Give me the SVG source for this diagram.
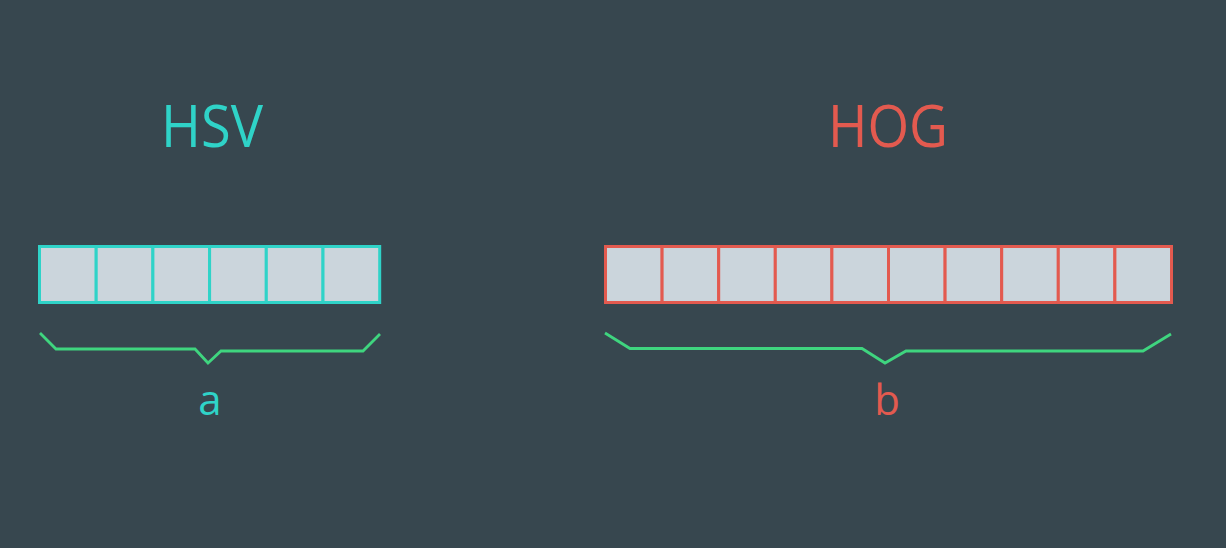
<svg xmlns="http://www.w3.org/2000/svg" width="1226" height="548" viewBox="0 0 1226 548">
<style>
.cell{fill:#cbd5dc;stroke-width:3}
.hsv .cell{stroke:#2fd3c8}
.hog .cell{stroke:#e35a4f}
.title{font-family:"Open Sans","Liberation Sans",sans-serif;font-size:58px;text-anchor:middle}
.lbl{font-family:"Open Sans","Liberation Sans",sans-serif;font-size:42px;text-anchor:middle}
.brace{fill:none;stroke:#3fd57f;stroke-width:2.8;stroke-linejoin:miter}
</style>
<rect width="1226" height="548" fill="#37474f"/>
<g id="hsv" class="hsv">
<text class="title" x="212" y="147" fill="#2fd3c8" textLength="102" lengthAdjust="spacingAndGlyphs">HSV</text>
<rect class="cell" x="39.5" y="246.5" width="56.7" height="56"/>
<rect class="cell" x="96.2" y="246.5" width="56.7" height="56"/>
<rect class="cell" x="152.9" y="246.5" width="56.7" height="56"/>
<rect class="cell" x="209.6" y="246.5" width="56.7" height="56"/>
<rect class="cell" x="266.3" y="246.5" width="56.7" height="56"/>
<rect class="cell" x="323" y="246.5" width="56.7" height="56"/>
</g>
<g id="hog" class="hog">
<text class="title" x="888" y="147" fill="#e35a4f" textLength="120" lengthAdjust="spacingAndGlyphs">HOG</text>
<rect class="cell" x="605.5" y="246.5" width="56.6" height="56"/>
<rect class="cell" x="662.1" y="246.5" width="56.6" height="56"/>
<rect class="cell" x="718.7" y="246.5" width="56.6" height="56"/>
<rect class="cell" x="775.3" y="246.5" width="56.6" height="56"/>
<rect class="cell" x="831.9" y="246.5" width="56.6" height="56"/>
<rect class="cell" x="888.5" y="246.5" width="56.6" height="56"/>
<rect class="cell" x="945.1" y="246.5" width="56.6" height="56"/>
<rect class="cell" x="1001.7" y="246.5" width="56.6" height="56"/>
<rect class="cell" x="1058.3" y="246.5" width="56.6" height="56"/>
<rect class="cell" x="1114.9" y="246.5" width="56.6" height="56"/>
</g>
<g id="connectors">
<polyline class="brace" points="40,333 56,349 195,349 208,363 221,351 363,351 380,334"/>
<polyline class="brace" points="605,333 630,348.5 862,348.5 885,363 906,351 1143,351 1171,334"/>
</g>
<g id="label-a"><text class="lbl" x="210" y="415" fill="#2fd3c8">a</text></g>
<g id="label-b"><text class="lbl" x="887" y="415" fill="#e35a4f">b</text></g>
</svg>
